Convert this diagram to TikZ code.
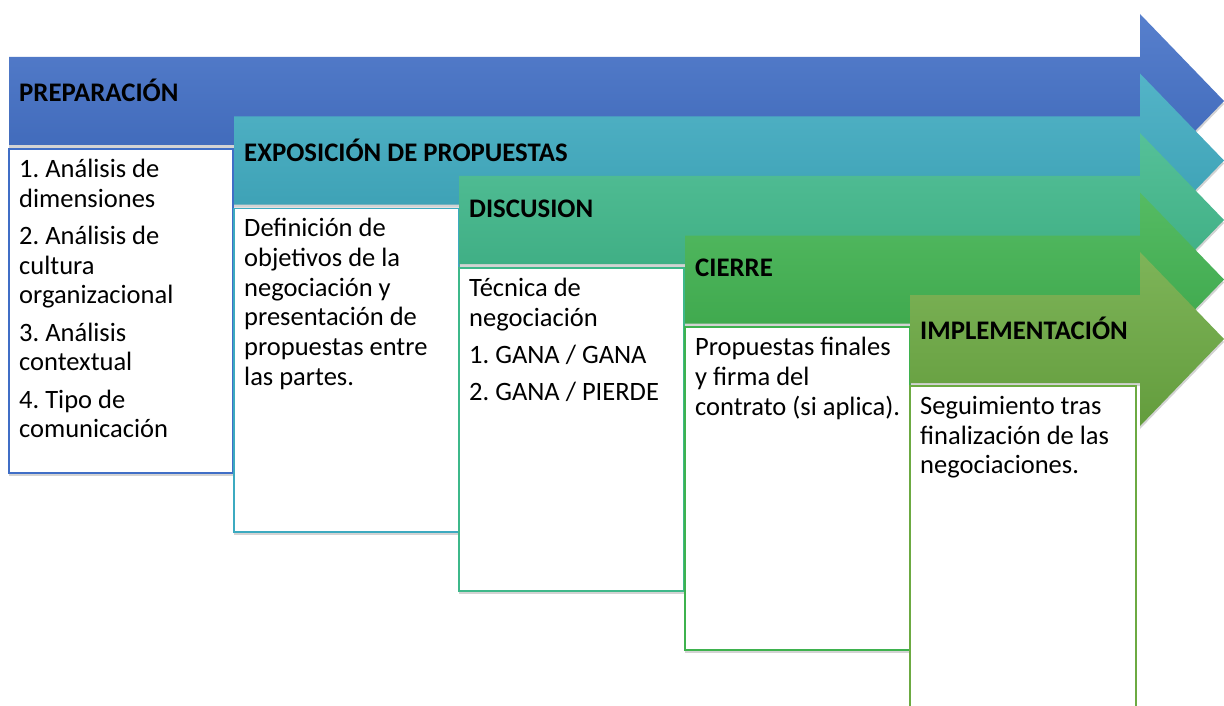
\documentclass[tikz,border=0pt]{standalone}
\usepackage{fontspec}
\setmainfont{Carlito}
\usetikzlibrary{shadows}
\frenchspacing

\definecolor{prepblue}{RGB}{64,110,198}
\definecolor{expoteal}{RGB}{60,170,192}
\definecolor{discgreen}{RGB}{62,184,138}
\definecolor{cierregreen}{RGB}{62,178,78}
\definecolor{implgreen}{RGB}{108,170,66}

\tikzset{
  stagearrow/.style={top color=#1!88!white,bottom color=#1!92!black,
    drop shadow={opacity=.35,shadow xshift=0pt,shadow yshift=-3pt}},
  stagebox/.style={draw=#1,line width=1.5pt,fill=white,
    drop shadow={opacity=.35,shadow xshift=0pt,shadow yshift=-3pt}},
  stagetitle/.style={anchor=west,inner sep=0pt,font=\fontsize{26.8}{30}\selectfont\bfseries},
  stagetext/.style={anchor=north west,inner sep=0pt,align=left,font=\fontsize{26.5}{29.7}\selectfont}
}

\begin{document}
\begin{tikzpicture}[x=1pt,y=-1pt]
\useasboundingbox (0,0) rectangle (1224,706);

\path[stagearrow=prepblue] (9,57) -- (1140,57) -- (1140,14) -- (1224,101) -- (1140,188) -- (1140,145) -- (9,145) -- cycle;
\node[stagetitle] (prep) at (19,90) {PREPARACIÓN};
\draw[stagebox=prepblue] (9,149) rectangle (233,473);
\node[stagetext] (preptext) at (19,159) {1. Análisis de\\ dimensiones\\[7.5pt] 2. Análisis de\\ cultura\\ organizacional\\[7.5pt] 3. Análisis\\ contextual\\[7.5pt] 4. Tipo de\\ comunicación};

\path[stagearrow=expoteal] (234,116.5) -- (1140,116.5) -- (1140,73.5) -- (1224,160.5) -- (1140,247.5) -- (1140,204.5) -- (234,204.5) -- cycle;
\node[stagetitle] (expo) at (244,150) {EXPOSICIÓN DE PROPUESTAS};
\draw[stagebox=expoteal] (234,208.5) rectangle (459,532);
\node[stagetext] (expotext) at (244,218) {Definición de\\ objetivos de la\\ negociación y\\ presentación de\\ propuestas entre\\ las partes.};

\path[stagearrow=discgreen] (459,176) -- (1140,176) -- (1140,133) -- (1224,220) -- (1140,307) -- (1140,264) -- (459,264) -- cycle;
\node[stagetitle] (disc) at (469,209) {DISCUSION};
\draw[stagebox=discgreen] (459,268) rectangle (684,591);
\node[stagetext] (disctext) at (469,278) {Técnica de\\ negociación\\[7.5pt] 1. GANA / GANA\\[7.5pt] 2. GANA / PIERDE};

\path[stagearrow=cierregreen] (685,235.5) -- (1140,235.5) -- (1140,192.5) -- (1224,279.5) -- (1140,366.5) -- (1140,323.5) -- (685,323.5) -- cycle;
\node[stagetitle] (cierre) at (695,268) {CIERRE};
\draw[stagebox=cierregreen] (685,327) rectangle (910,650);
\node[stagetext] (cierretext) at (695,337) {Propuestas finales\\ y firma del\\ contrato (si aplica).};

\path[stagearrow=implgreen] (910,295) -- (1140,295) -- (1140,252) -- (1224,339) -- (1140,426) -- (1140,383) -- (910,383) -- cycle;
\node[stagetitle] (impl) at (920,328) {IMPLEMENTACIÓN};
\draw[stagebox=implgreen] (910,386) rectangle (1136,710);
\node[stagetext] (impltext) at (920,396) {Seguimiento tras\\ finalización de las\\ negociaciones.};
\end{tikzpicture}
\end{document}
